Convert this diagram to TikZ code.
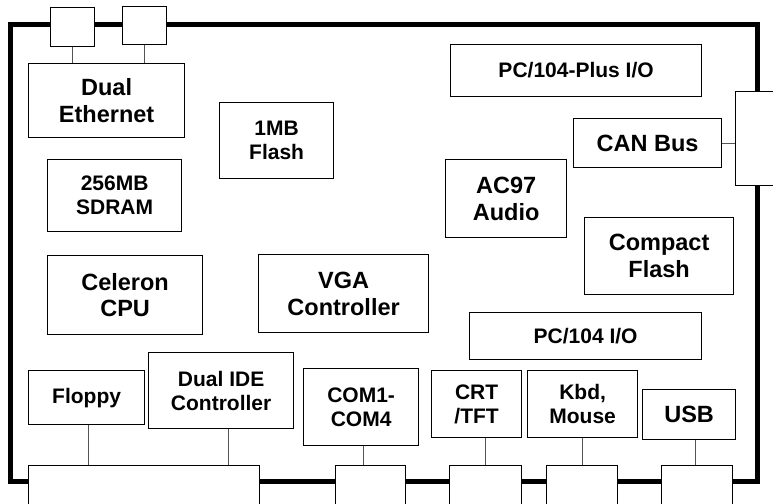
\documentclass[tikz,border=0pt]{standalone}
\usepackage{fontspec}
\setmainfont{Liberation Sans}
\usetikzlibrary{calc}
\definecolor{leadgray}{HTML}{555555}

\begin{document}
\begin{tikzpicture}[x=1pt,y=-1pt,
  blk/.style={draw=black,line width=1.2pt,fill=white,align=center,inner sep=0pt,anchor=north west},
  big/.style={font=\fontsize{23.5}{26.7}\selectfont\bfseries},
  small/.style={font=\fontsize{21}{24}\selectfont\bfseries},
  port/.style={draw=black,line width=1pt,fill=white,inner sep=0pt,anchor=north west},
  lead/.style={draw=leadgray,line width=0.8pt}]
  \clip (0,0) rectangle (773,503);
  % board outline
  \draw[line width=5pt] (10,25) rectangle (757,481);
  % blocks: name / left / top / right / bottom / size / text
  \foreach \n/\xa/\ya/\xb/\yb/\f/\t in {
     eth/28/63/184/137/big/{Dual\\Ethernet},
     flash/219/102/333/178/small/{1MB\\Flash},
     sdram/47/159/181/231/small/{256MB\\SDRAM},
     cpu/47/255/202/334/big/{Celeron\\CPU},
     vga/258/254/428/332/big/{VGA\\Controller},
     pcplus/450/44/701/96/small/{PC/104-Plus I/O},
     can/573/118/721/167/big/{CAN Bus},
     audio/445/159/566/237/big/{AC97\\Audio},
     cf/584/217/733/294/big/{Compact\\Flash},
     pcio/469/312/701/359/small/{PC/104 I/O},
     floppy/28/370/144/424/small/{Floppy},
     ide/148/352/293/428/small/{Dual IDE\\Controller},
     com/303/368/418/445/small/{COM1-\\COM4},
     crt/431/370/521/437/small/{CRT\\/TFT},
     kbd/527/370/637/437/small/{Kbd,\\Mouse},
     usb/642/389/735/439/big/{USB}}{
       \node[blk,\f,minimum width={(\xb-\xa)*1pt},minimum height={(\yb-\ya)*1pt}] (\n) at (\xa,\ya) {\t};
  }
  % connectors on the board edge
  \foreach \n/\xa/\ya/\xb/\yb in {
     ethA/50/7/94/46, ethB/122/6/166/44, canport/735/91/790/185,
     ideport/28/465/259/520, comport/335/465/405/520, crtport/449/465/521/520,
     kbdport/546/465/617/520, usbport/661/465/732/520}{
       \node[port,minimum width={(\xb-\xa)*1pt},minimum height={(\yb-\ya)*1pt}] (\n) at (\xa,\ya) {};
  }
  % leads
  \draw[lead] (ethA.south) -- (ethA.south |- eth.north);
  \draw[lead] (ethB.south) -- (ethB.south |- eth.north);
  \draw[lead] (can.east) -- (can.east -| canport.west);
  \draw[lead] ([xshift=2pt]floppy.south) -- ([xshift=2pt]floppy.south |- ideport.north);
  \draw[lead] ([xshift=7.5pt]ide.south) -- ([xshift=7.5pt]ide.south |- ideport.north);
  \draw[lead] ([xshift=2.5pt]com.south) -- ([xshift=2.5pt]com.south |- comport.north);
  \draw[lead] (crtport.north) -- (crtport.north |- crt.south);
  \draw[lead] (kbdport.north) -- (kbdport.north |- kbd.south);
  \draw[lead] ([xshift=6.5pt]usb.south) -- ([xshift=6.5pt]usb.south |- usbport.north);
\end{tikzpicture}
\end{document}
